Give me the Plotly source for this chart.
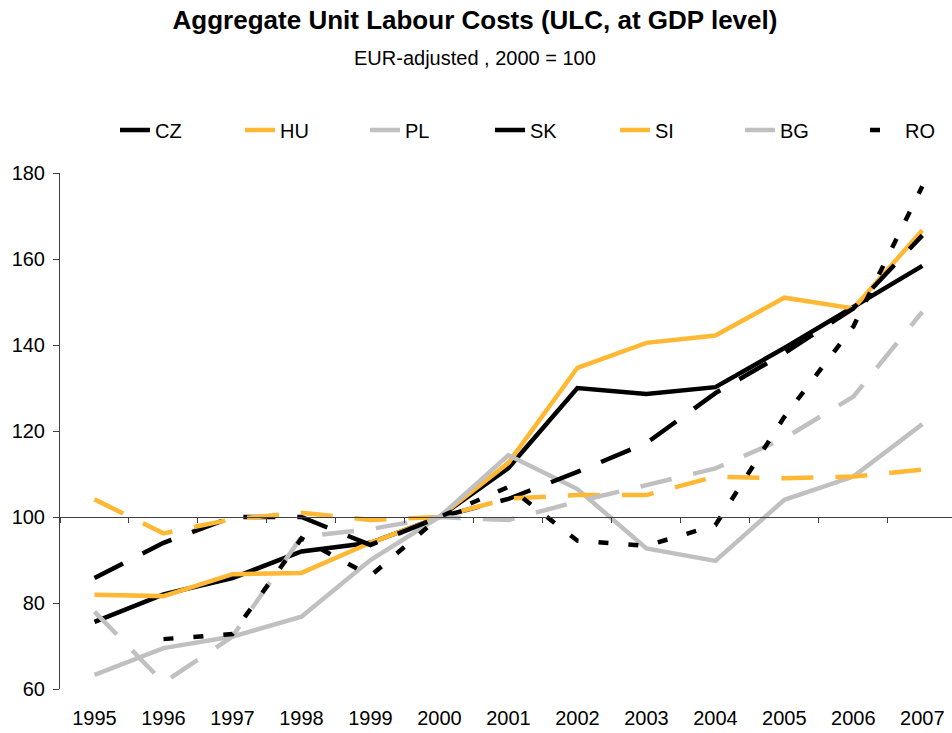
import plotly.graph_objects as go

years = ["1995", "1996", "1997", "1998", "1999", "2000", "2001",
         "2002", "2003", "2004", "2005", "2006", "2007"]

cz = [75.6, 82.0, 85.8, 92.0, 94.0, 100.0, 111.4, 130.0, 128.6, 130.2, 139.3, 148.8, 158.4]
hu = [81.9, 81.6, 86.7, 87.0, 94.0, 100.0, 112.6, 134.7, 140.5, 142.2, 151.0, 148.5, 166.7]
pl = [63.3, 69.5, 72.2, 76.8, 90.0, 100.0, 114.4, 106.5, 92.7, 89.8, 104.0, 109.4, 121.6]
sk = [85.8, 94.0, 100.0, 100.0, 93.5, 100.0, 104.2, 110.5, 117.2, 128.8, 138.1, 148.5, 165.5]
si = [104.1, 96.2, 99.5, 101.0, 99.3, 100.0, 104.3, 105.1, 105.1, 109.4, 109.0, 109.4, 111.0]
bg = [78.0, 61.5, 72.2, 95.4, 97.2, 100.0, 99.3, 103.6, 107.4, 111.3, 118.3, 128.0, 147.7]
ro = [None, 71.6, 72.8, 95.0, 86.3, 100.0, 107.0, 94.5, 93.3, 98.1, 123.3, 144.3, 176.9]

y_ticks = [60, 80, 100, 120, 140, 160, 180]

ORANGE = "#FFB833"
GREY = "#C0C0C0"
BLACK = "#000000"
LONG = "32px,22px"
DOT = "10px,20px"

series = [
    ("CZ", cz, BLACK, "solid"),
    ("HU", hu, ORANGE, "solid"),
    ("PL", pl, GREY, "solid"),
    ("SK", sk, BLACK, LONG),
    ("SI", si, ORANGE, LONG),
    ("BG", bg, GREY, LONG),
    ("RO", ro, BLACK, DOT),
]

FONT = "Liberation Sans, Arial, sans-serif"

fig = go.Figure()
for name, vals, color, dash in series:
    fig.add_trace(go.Scatter(
        x=years, y=vals, name=name, mode="lines",
        line=dict(color=color, width=4.5, dash=dash),
        connectgaps=False,
    ))

# invisible helper trace so the baseline axis (at 100) gets its categories
fig.add_trace(go.Scatter(
    x=years, y=cz, xaxis="x2", mode="markers",
    marker=dict(opacity=0), showlegend=False, hoverinfo="skip",
))

x_range = [-0.5, 12.43]

fig.update_layout(
    width=952, height=733,
    margin=dict(l=60, r=0, t=173, b=44, autoexpand=False),
    paper_bgcolor="white", plot_bgcolor="white",
    font=dict(family=FONT, size=20, color="black"),
    showlegend=True,
    title=dict(
        text="<b>Aggregate Unit Labour Costs (ULC, at GDP level)</b>",
        font=dict(family=FONT, size=26, color="black"),
        x=475 / 952, xref="container", xanchor="center",
        y=1 - 20 / 733, yref="container", yanchor="middle",
    ),
    annotations=[dict(
        text="EUR-adjusted , 2000 = 100",
        xref="paper", yref="paper", x=(475 - 60) / 892, y=(689 - 58) / 516,
        xanchor="center", yanchor="middle", showarrow=False,
        font=dict(family=FONT, size=20, color="black"),
    )],
    legend=dict(
        orientation="h",
        xref="container", yref="container",
        x=115 / 952, y=1 - 130 / 733,
        xanchor="left", yanchor="middle",
        entrywidth=80, entrywidthmode="pixels",
        font=dict(family=FONT, size=20, color="black"),
        bgcolor="rgba(0,0,0,0)", borderwidth=0,
        tracegroupgap=0, itemwidth=30,
    ),
    xaxis=dict(
        type="category", categoryorder="array", categoryarray=years,
        range=x_range, showline=False, ticks="", showgrid=False,
        zeroline=False, tickfont=dict(family=FONT, size=20, color="black"),
        ticklabelstandoff=15,
    ),
    xaxis2=dict(
        type="category", categoryorder="array", categoryarray=years,
        range=x_range, overlaying="x", anchor="free",
        position=(100 - 60) / (180 - 60),
        showline=True, linecolor="#404040", linewidth=1,
        ticks="outside", ticklen=5, tickcolor="#404040", tickwidth=1,
        tickson="boundaries", showticklabels=False, showgrid=False,
        zeroline=False,
    ),
    yaxis=dict(
        range=[60, 180], tickvals=y_ticks, showline=True,
        linecolor="#404040", linewidth=1, ticks="outside", ticklen=6,
        tickcolor="#404040", showgrid=False, zeroline=False,
        tickfont=dict(family=FONT, size=20, color="black"),
        ticklabelstandoff=4,
    ),
)

fig.write_html(
    "out.html",
    config={"displayModeBar": False},
    post_script="document.body.style.margin='0';document.body.style.overflow='hidden';",
)
